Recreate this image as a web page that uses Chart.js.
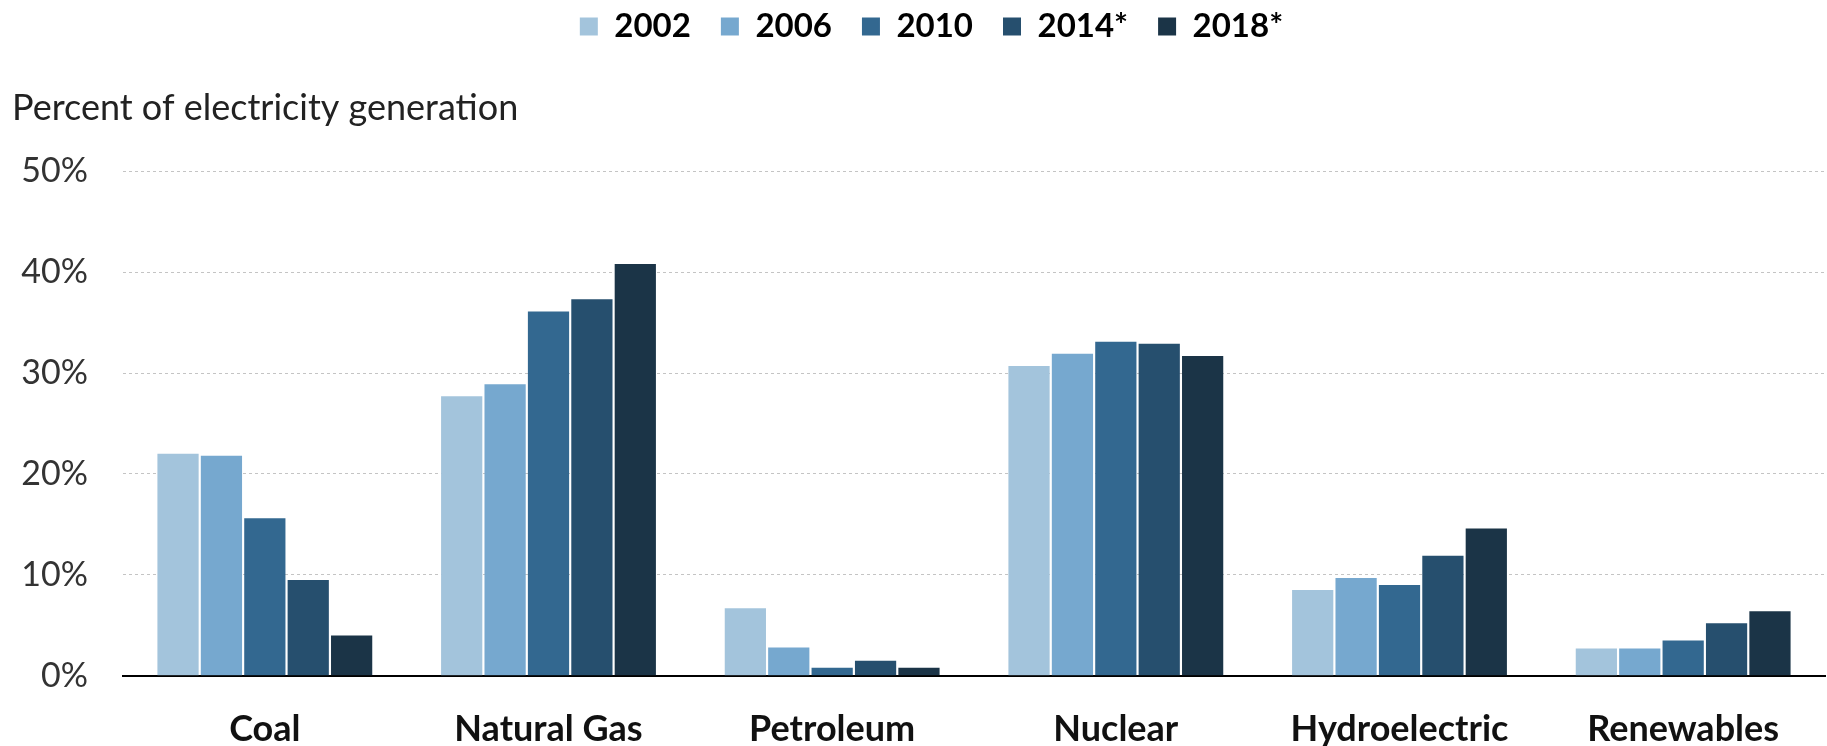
<!DOCTYPE html>
<html>
<head>
<meta charset="utf-8">
<script src="https://cdn.jsdelivr.net/npm/chart.js@4/dist/chart.umd.min.js"></script>
<style>
  html, body { margin: 0; padding: 0; background: #fff; }
  #wrap { width: 1827px; height: 746px; }
</style>
</head>
<body>
<div id="wrap"><canvas id="chart"></canvas></div>
<script>
// share of electricity generation, by source and year
const sources = ["Coal", "Natural Gas", "Petroleum", "Nuclear", "Hydroelectric", "Renewables"];
const years = ["2002", "2006", "2010", "2014*", "2018*"];

const y2002 = [22.0, 27.7, 6.7, 30.7, 8.5, 2.7];
const y2006 = [21.8, 28.9, 2.8, 31.9, 9.7, 2.7];
const y2010 = [15.6, 36.1, 0.8, 33.1, 9.0, 3.5];
const y2014 = [9.5, 37.3, 1.5, 32.9, 11.9, 5.2];
const y2018 = [4.0, 40.8, 0.8, 31.7, 14.6, 6.4];

const yTicks = [0, 10, 20, 30, 40, 50];

const colors = ["#a3c4dc", "#76a8cf", "#336890", "#264f6e", "#1b3447"];
const series = [y2002, y2006, y2010, y2014, y2018];

const FONT = "Lato";

// the legend in the original sits a little right of centre
const nudgeLegend = {
    id: "nudgeLegend",
    afterLayout(chart) {
        chart.legend.left += 13;
        chart.legend.right += 13;
    }
};

new Chart(document.getElementById("chart").getContext("2d"), {
    type: "bar",
    data: {
        labels: sources,
        datasets: series.map((vals, i) => ({
            label: years[i],
            data: vals,
            backgroundColor: colors[i],
            borderWidth: 0,
            categoryPercentage: 0.765,
            barPercentage: 0.95,
        })),
    },
    plugins: [nudgeLegend],
    options: {
        responsive: true,
        maintainAspectRatio: false,
        animation: false,
        layout: {
            padding: { left: 12, right: 2, top: -20, bottom: -37 }
        },
        plugins: {
            legend: {
                display: true,
                position: "top",
                weight: 3000,
                labels: {
                    boxWidth: 18,
                    boxHeight: 18,
                    padding: 30,
                    color: "#000",
                    font: { family: FONT, size: 33, weight: "bold" }
                }
            },
            title: {
                display: true,
                text: "Percent of electricity generation",
                align: "start",
                color: "#222",
                font: { family: FONT, size: 36, weight: "normal" },
                padding: { top: 34, bottom: 41 }
            },
            tooltip: { enabled: false }
        },
        scales: {
            x: {
                grid: { display: false, drawTicks: false },
                border: { display: true, color: "#000", width: 2 },
                ticks: {
                    color: "#111",
                    padding: 32,
                    font: { family: FONT, size: 36, weight: "bold" }
                }
            },
            y: {
                min: 0,
                max: 50,
                afterBuildTicks: axis => { axis.ticks = yTicks.map(v => ({ value: v })); },
                afterFit: axis => { axis.width = 111; },
                grid: { color: "#c4c4c4", lineWidth: 1, drawTicks: false },
                border: { display: false, dash: [3, 3] },
                ticks: {
                    color: "#333",
                    padding: 35,
                    font: { family: FONT, size: 34 },
                    callback: v => v + "%"
                }
            }
        }
    }
});
</script>
</body>
</html>
